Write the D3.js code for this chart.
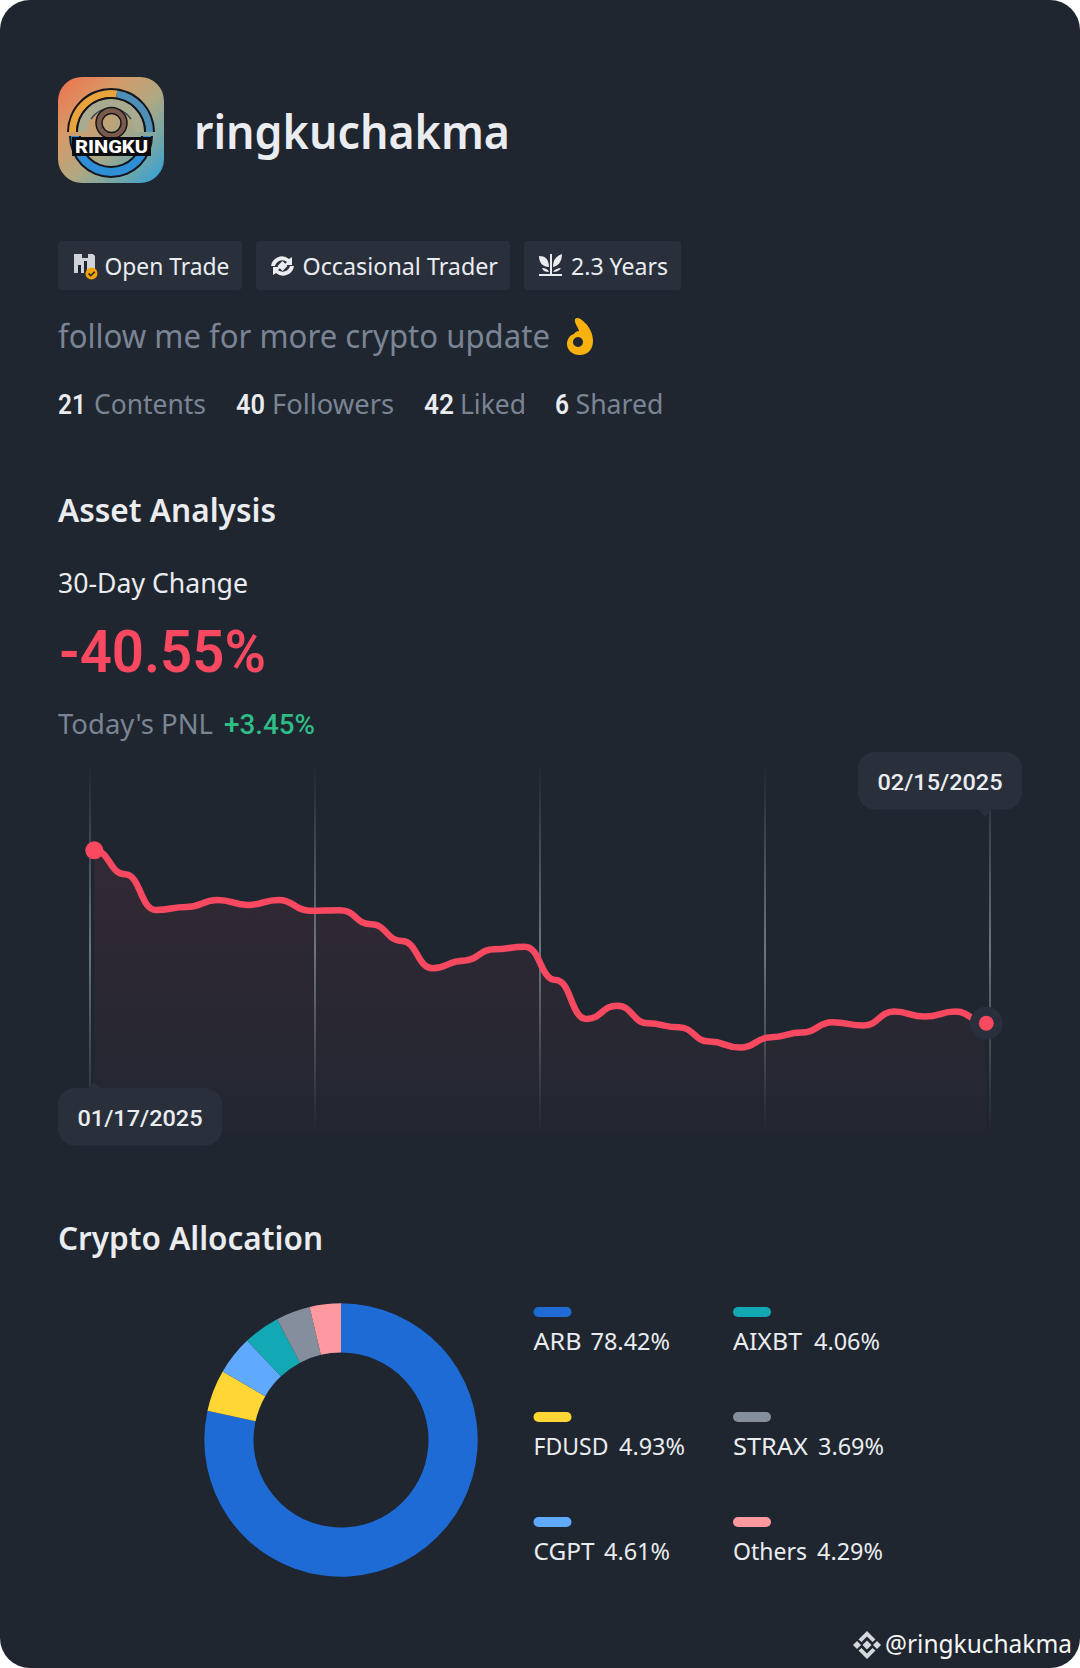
<!DOCTYPE html>
<html><head><meta charset="utf-8">
<script src="https://cdn.jsdelivr.net/npm/d3@7/dist/d3.min.js"></script>
<style>html,body{margin:0;padding:0;background:#fff}svg{display:block}</style></head>
<body><svg id="c" width="1080" height="1668" viewBox="0 0 1080 1668"></svg>
<script>
// ---------- data ----------
const days = d3.range(30);
const pnl = [0,-5.63,-13.98,-13.28,-11.64,-12.81,-11.64,-14.14,-14.06,-17.34,-21.25,-27.66,-25.86,-23.2,-22.58,-30.39,-39.53,-36.41,-40.55,-41.48,-44.84,-46.25,-43.83,-42.73,-40.31,-41.09,-37.81,-38.98,-37.81,-40.55];
const assets = ["ARB","FDUSD","CGPT","AIXBT","STRAX","Others"];
const shares = [78.42,4.93,4.61,4.06,3.69,4.29];
const assetColors = ["#1e6bd6","#ffd633","#5fa9ff","#12a9b5","#848e9c","#ff99a0"];
const gridTicks = [0,1,2,3,4];
const startDate = "01/17/2025", endDate = "02/15/2025";

// ---------- palette ----------
const BG="#1f2630", CHIP="#29303c", WHITE="#eaecef", GRAY="#7a8494", PINK="#f84960", GREEN="#2ebd85";
const SANS="'Noto Sans',sans-serif", NUM="Roboto,sans-serif";

const svg=d3.select("#c");
const defs=svg.append("defs");
svg.append("rect").attr("width",1080).attr("height",1668).attr("rx",30).attr("fill",BG);

function T(s,x,y,size,fill,opt={}){
  const t=svg.append("text").attr("x",x).attr("y",y).attr("font-size",size).attr("fill",fill)
    .attr("font-family",opt.font||SANS).attr("font-weight",opt.w||400).text(s);
  if(opt.len){t.attr("textLength",opt.len).attr("lengthAdjust","spacingAndGlyphs");}
  return t;
}

// ---------- avatar ----------
const ag=defs.append("linearGradient").attr("id","av").attr("x1",0).attr("y1",0).attr("x2",1).attr("y2",1);
[[0,"#f0704c"],[0.3,"#d69a68"],[0.55,"#b0a882"],[0.8,"#6aa6ae"],[1,"#2a9fe0"]].forEach(d=>ag.append("stop").attr("offset",d[0]).attr("stop-color",d[1]));
defs.append("clipPath").attr("id","avc").append("rect").attr("x",58).attr("y",77).attr("width",106).attr("height",106).attr("rx",24);
const av=svg.append("g").attr("clip-path","url(#avc)");
av.append("rect").attr("x",58).attr("y",77).attr("width",106).attr("height",106).attr("fill","url(#av)");
const arc=d3.arc();
const A=(ri,ro,a,b,c,cy=132)=>av.append("path").attr("transform",`translate(111,${cy})`).attr("d",arc({innerRadius:ri,outerRadius:ro,startAngle:a,endAngle:b})).attr("fill",c);
A(33,44,-Math.PI/2,Math.PI/2,"#15161c");
A(35,42,-Math.PI/2,0.15,"#e9a33c");
A(35,42,0.15,Math.PI/2,"#4d8fb8");
A(33,35,-Math.PI/2,Math.PI/2,"#15161c");
A(24,33,-Math.PI/2,Math.PI/2,"#a8ab90");
A(23,24.5,-1.0,1.0,"#3a4a50");
A(30,42,Math.PI/2,Math.PI*1.5,"#15161c",136);
A(32,40,Math.PI/2,Math.PI*1.5,"#2f8fd6",136);
av.append("circle").attr("cx",111.5).attr("cy",123).attr("r",12.5).attr("fill","none").attr("stroke","#15161c").attr("stroke-width",7.5);
av.append("circle").attr("cx",111.5).attr("cy",123).attr("r",12.5).attr("fill","none").attr("stroke","#7a5a4a").attr("stroke-width",4.5);
av.append("rect").attr("x",72).attr("y",137).attr("width",79).attr("height",19).attr("fill","#0c0c10");
T("RINGKU",75,153,19,"#fff",{w:800,font:NUM,len:73});

// ---------- header ----------
T("ringkuchakma",194,148.5,46,WHITE,{w:600,len:316});

const chips=[[58,184],[256,254],[524,157]];
svg.selectAll(".chip").data(chips).join("rect").attr("x",d=>d[0]).attr("y",241).attr("width",d=>d[1]).attr("height",49).attr("rx",4).attr("fill",CHIP);
T("Open Trade",104.5,274.5,24,WHITE,{len:125});
T("Occasional Trader",302.5,274.5,24,WHITE,{len:195.5});
T("2.3 Years",571,274.5,24,WHITE,{len:97});
// chip icons
svg.append("path").attr("d","M74 254h8v4h6v-4h5l2 2v17h-21z").attr("fill","#cfd3d8");
[[78,265,3,8],[84,261,3,12]].forEach(r=>svg.append("rect").attr("x",r[0]).attr("y",r[1]).attr("width",r[2]).attr("height",r[3]).attr("fill",BG));
svg.append("circle").attr("cx",91.5).attr("cy",273.5).attr("r",6).attr("fill","#f0a30b");
svg.append("path").attr("d","M88.5 273.5l2.2 2.2 4-4").attr("fill","none").attr("stroke","#1f2630").attr("stroke-width",1.6);
svg.append("path").attr("d","M271 266a11 11 0 0 1 18-7l3-2v8h-8l3-3a7.5 7.5 0 0 0-12 4zM294 266a11 11 0 0 1-18 7l-3 2v-8h8l-3 3a7.5 7.5 0 0 0 12-4z").attr("fill",WHITE);
svg.append("path").attr("d","M282.5 261l5 5-5 5-5-5z").attr("fill",WHITE);
svg.append("rect").attr("x",539).attr("y",274).attr("width",23).attr("height",2).attr("fill",WHITE);
svg.append("rect").attr("x",550).attr("y",254).attr("width",2).attr("height",21).attr("fill",WHITE);
svg.append("path").attr("d","M539 256c6 0 10 3 10 11-6 0-10-4-10-11zM562 254c0 8-4 12-9 13 0-7 3-11 9-13zM542 268c3 0 6 1 7 4-3 0-6-1-7-4zM561 268c-3 0-6 1-8 4 3 0 6-1 8-4z").attr("fill",WHITE);

T("follow me for more crypto update",58,348,32,GRAY,{len:492});
// ok-hand emoji glyph
svg.append("path").attr("fill-rule","evenodd").attr("d","M575 319c2-2 5-1 8 2 6 5 10 12 10 20 0 9-6 14-13 14-8 0-13-5-13-11 0-5 3-9 7-10 1-2 3-3 5-3-1-4-5-8-4-12zM578 337a5 5 0 1 0 .01 0z").attr("fill","#f7b20f");

[["21",58,"Contents",94,112,28],["40",236,"Followers",272,122,29],["42",424,"Liked",460,66,30],["6",555,"Shared",575.5,88,14]].forEach(d=>{
  T(d[0],d[1],414,28.5,WHITE,{w:600,font:NUM,len:d[5]});
  T(d[2],d[3],414,28,GRAY,{len:d[4]});
});

// ---------- asset analysis ----------
T("Asset Analysis",58,522,32,WHITE,{w:600,len:218});
T("30-Day Change",58,593,27,WHITE,{len:190});
T("-40.55%",59,672,59,PINK,{w:600,font:NUM,len:207});
T("Today's PNL",58,734,27,GRAY,{len:155});
T("+3.45%",224,734,27,GREEN,{w:500,font:NUM,len:91});

// ---------- line chart ----------
const x=d3.scaleLinear().domain([0,29]).range([94.3,986.3]);
const y=d3.scaleLinear().domain([0,-40.55]).range([850.3,1023.3]);
const gx=d3.scaleLinear().domain([0,4]).range([90,990]);
const chartTop=765, chartBottom=1132;

const gg=defs.append("linearGradient").attr("id","gridg").attr("gradientUnits","userSpaceOnUse").attr("x1",0).attr("x2",0).attr("y1",chartTop).attr("y2",chartBottom);
[[0,0],[0.5,1],[1,0]].forEach(d=>gg.append("stop").attr("offset",d[0]).attr("stop-color","#6c7584").attr("stop-opacity",d[1]));
const fg=defs.append("linearGradient").attr("id","areag").attr("gradientUnits","userSpaceOnUse").attr("x1",0).attr("x2",0).attr("y1",850).attr("y2",chartBottom);
[[0,0.09],[1,0.015]].forEach(d=>fg.append("stop").attr("offset",d[0]).attr("stop-color",PINK).attr("stop-opacity",d[1]));

svg.append("path").datum(pnl).attr("fill","url(#areag)")
  .attr("d",d3.area().x((d,i)=>x(i)).y0(chartBottom).y1(d=>y(d)).curve(d3.curveBumpX));
svg.selectAll(".grid").data(gridTicks).join("rect").attr("class","grid")
  .attr("x",d=>gx(d)-1).attr("y",chartTop).attr("width",2).attr("height",chartBottom-chartTop).attr("fill","url(#gridg)");
svg.append("path").datum(pnl).attr("fill","none").attr("stroke",PINK).attr("stroke-width",6.5).attr("stroke-linejoin","round").attr("stroke-linecap","round")
  .attr("d",d3.line().x((d,i)=>x(i)).y(d=>y(d)).curve(d3.curveBumpX));
svg.append("circle").attr("cx",x(0)).attr("cy",y(pnl[0])).attr("r",9).attr("fill",PINK);
svg.append("circle").attr("cx",x(29)).attr("cy",y(pnl[29])).attr("r",16.5).attr("fill",CHIP);
svg.append("circle").attr("cx",x(29)).attr("cy",y(pnl[29])).attr("r",7.5).attr("fill",PINK);

// tooltips
svg.append("rect").attr("x",58).attr("y",1088).attr("width",164).attr("height",57.5).attr("rx",17).attr("fill",CHIP);
svg.append("path").attr("d","M88 1088l6-6 7 6z").attr("fill",CHIP);
T(startDate,77.5,1126,22.5,WHITE,{w:500,font:NUM,len:125});
svg.append("rect").attr("x",858).attr("y",752).attr("width",164).attr("height",57.5).attr("rx",17).attr("fill",CHIP);
svg.append("path").attr("d","M978 809l7 8 7-8z").attr("fill",CHIP);
T(endDate,877.5,790,22.5,WHITE,{w:500,font:NUM,len:125});

// ---------- donut ----------
T("Crypto Allocation",58,1250,32,WHITE,{w:600,len:265});
const pie=d3.pie().sort(null).startAngle(0).endAngle(2*Math.PI);
const dg=svg.append("g").attr("transform","translate(341,1440)");
const sectorArc=d3.arc().innerRadius(87.5).outerRadius(136.7);
// the reference's slices run largest to smallest, coloured by position
dg.selectAll("path").data(pie(d3.sort(shares,d3.descending))).join("path").attr("d",sectorArc).attr("fill",(d,i)=>assetColors[i]);

// legend
const colX=[533.5,733], rowY=[1307,1412,1517];
const nameW=[48,75,61,69,75,74], valX=[590.5,619,604,814,818,817];
assets.forEach((a,i)=>{
  const cx=colX[i<3?0:1], ry=rowY[i%3];
  svg.append("rect").attr("x",cx).attr("y",ry).attr("width",38).attr("height",10).attr("rx",5).attr("fill",assetColors[i]);
  T(a,cx,ry+43,23,WHITE,{len:nameW[i]});
  T(d3.format(".2f")(shares[i])+"%",valX[i],ry+43,23,WHITE,{len:i===0?79.5:66});
});

// ---------- watermark ----------
const lg=svg.append("g").attr("transform","translate(867,1645)").attr("fill","#d5d8dc");
lg.append("path").attr("d","M0-4.5L4.5 0 0 4.5-4.5 0z");
lg.append("path").attr("d","M-10-4L-6 0-10 4-14 0z");
lg.append("path").attr("d","M10-4L14 0 10 4 6 0z");
lg.append("path").attr("d","M0-14L8.5-5.5 5.5-3 0-8.5-5.5-3-8.5-5.5z");
lg.append("path").attr("d","M0 14L8.5 5.5 5.5 3 0 8.5-5.5 3-8.5 5.5z");
T("@ringkuchakma",885,1653,26,"#f5f5f5",{len:187});
</script></body></html>
